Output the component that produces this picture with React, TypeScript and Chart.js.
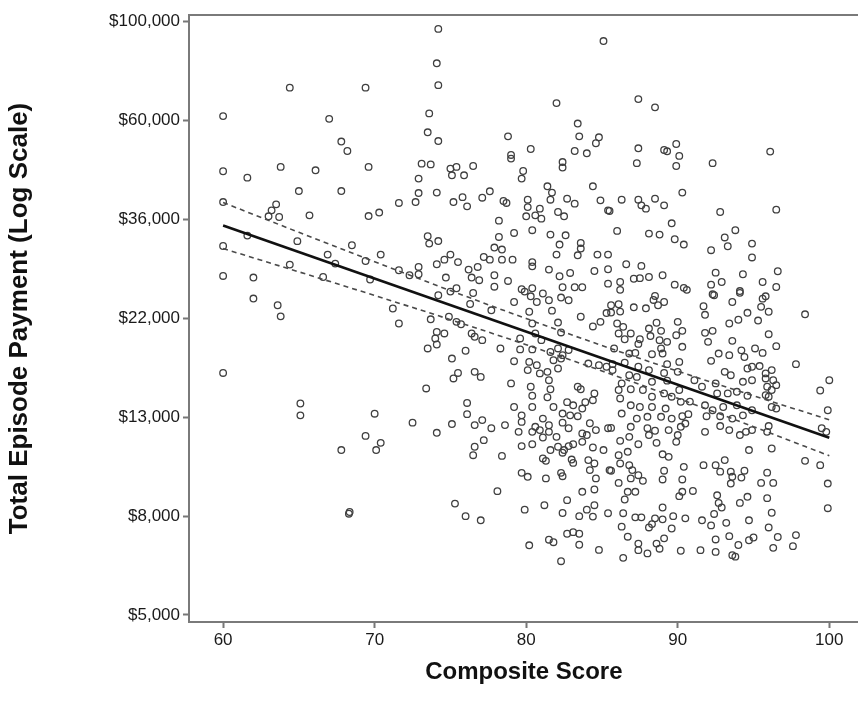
import { useEffect, useRef } from 'react';
import { Chart, registerables } from 'chart.js';

Chart.register(...registerables);

// Composite score of each hospital (x)
const scores = [
  64.4, 69.4, 60.0, 67.0, 67.8, 68.2, 74.2, 85.1, 74.1, 74.2, 82.0, 73.6, 83.4, 73.5, 74.2, 78.8, 83.5, 84.8, 84.6, 80.3,
  83.2, 84.0, 79.0, 87.4, 88.5, 87.4, 89.1, 89.9, 89.3, 96.1, 60.0, 61.6, 63.8, 66.1, 69.6, 65.0, 67.8, 60.0, 63.5, 63.2,
  63.0, 63.7, 65.7, 69.6, 70.3, 71.6, 61.6, 64.9, 68.5, 60.0, 66.9, 67.4, 69.4, 70.4, 64.4, 71.6, 60.0, 62.0, 66.6, 69.7,
  62.0, 63.6, 63.8, 71.2, 71.6, 60.0, 65.1, 65.1, 70.0, 69.4, 70.4, 70.1, 67.8, 68.3, 68.35,
  73.1, 73.7, 72.9, 75.0, 75.4, 75.1, 75.9, 76.5, 79.0, 79.8, 79.7, 82.4, 82.4, 84.4, 72.7, 72.9, 74.1, 75.2, 75.8, 76.1,
  77.1, 77.6, 78.5, 78.7, 80.1, 80.1, 80.0, 80.9, 80.6, 81.0, 81.4, 81.7, 81.6, 82.7, 83.2, 82.1, 82.5, 84.9, 85.4, 78.2,
  79.2, 80.4, 81.6, 82.6, 78.2, 73.5, 73.6, 74.2, 82.2, 83.6, 83.6, 82.0, 83.4, 84.7, 85.4, 77.9, 78.4, 77.2, 77.6, 78.4,
  79.1, 80.4, 80.4, 75.0, 74.6, 74.1, 75.5, 72.9, 72.3, 72.9, 76.2, 76.8, 76.4, 76.9, 74.7, 77.9, 77.9, 78.8, 81.5, 82.2,
  82.9, 84.5, 85.4, 79.7, 80.4, 81.1, 82.4, 83.2, 83.7, 75.4, 75.0, 85.4,
  90.1, 87.3, 89.9, 92.3, 90.3, 86.3, 87.4, 88.5, 87.6, 87.9, 89.1, 85.5, 92.8, 96.5, 89.6, 86.0, 88.1, 88.8, 89.8, 90.4,
  92.2, 93.1, 93.8, 93.3, 94.9, 94.9, 86.6, 87.6, 86.2, 87.1, 87.5, 88.1, 89.0, 89.8, 90.4, 92.5, 94.3, 96.6, 92.2, 92.9,
  95.6, 96.5, 94.1, 92.3, 88.5, 95.8,
  73.7, 74.9, 75.4, 75.7, 74.1, 74.6, 74.0, 74.1, 73.5, 76.4, 76.6, 77.1, 76.0, 75.1, 75.5, 75.2, 76.6, 77.0, 73.4, 76.5,
  76.3, 77.7, 74.2, 79.2, 79.9, 80.3, 80.7, 81.5, 82.3, 82.8, 80.2, 81.7, 82.1, 82.3, 83.6, 84.4, 84.9, 85.3, 80.4, 79.6,
  80.6, 81.0, 78.3, 79.6, 80.4, 81.6, 82.1, 82.4, 82.8, 81.8, 82.3, 82.1, 79.2, 80.2, 80.7, 80.1, 80.9, 81.4, 81.5, 79.0,
  80.3, 80.4, 81.6, 81.4, 83.4, 83.6, 84.5, 84.4, 84.1, 84.8, 85.3, 76.1, 76.1, 79.2, 80.4, 81.8, 82.7, 83.1, 83.9, 83.7,
  82.4, 82.9, 83.4, 79.7, 79.7, 81.1, 81.5, 80.6, 80.9, 82.4, 82.8, 84.2, 84.6, 83.7, 72.5, 75.1, 76.6, 77.1, 77.7, 78.6,
  79.5, 74.1, 85.4,
  86.2, 90.6, 92.4, 94.1, 85.6, 86.1, 85.6, 86.2, 87.1, 87.9, 88.4, 88.7, 89.1, 91.7, 91.8, 93.6, 95.6, 95.5, 96.0, 94.6,
  98.4, 94.0, 93.4, 95.3, 86.0, 86.4, 86.1, 86.5, 86.9, 87.5, 87.4, 88.1, 88.6, 88.9, 88.2, 88.8, 89.3, 89.9, 90.0, 90.3,
  91.8, 92.3, 92.0, 93.6, 96.0, 96.5, 85.8, 86.8, 87.2, 88.3, 88.9, 89.0, 90.3, 92.7, 93.4, 94.2, 94.4, 95.1, 95.6, 97.8,
  92.2, 90.1, 89.3, 88.1, 87.4, 86.5, 85.7, 85.7, 94.6, 94.9, 95.4, 96.2, 95.8, 93.1, 93.5, 94.9, 94.3, 95.8, 96.3, 96.5,
  95.9, 96.2, 95.8, 96.0, 91.1, 91.6, 92.5, 92.6, 93.3, 93.9, 94.6, 90.8, 90.1, 90.0, 89.1, 89.3, 88.3, 87.3, 86.8, 86.3,
  86.1, 86.2, 86.9, 87.7, 88.3, 89.1, 89.6, 90.2, 86.9, 87.5, 88.3, 89.2, 86.3, 91.8, 92.3, 93.0, 93.9, 94.9, 96.2, 96.5,
  94.3, 93.6, 92.8, 91.9, 90.7, 90.3, 89.6, 88.9, 88.0, 87.3, 85.6, 86.9, 88.0, 88.5, 89.4, 90.2, 90.5, 91.8, 92.8, 93.4,
  94.5, 94.9, 96.0, 95.9, 100.0, 99.4, 99.9, 99.5, 99.8,
  77.2, 76.6, 76.5, 78.4, 80.4, 81.1, 81.5, 82.0, 79.7, 80.4, 81.6, 82.1, 82.5, 82.8, 83.1, 83.7, 84.0, 84.4, 85.1, 81.1,
  81.3, 82.4, 83.0, 83.1, 84.1, 84.5, 84.2, 85.5, 79.7, 80.1, 81.3, 82.3, 82.4, 84.6, 78.1, 83.7, 84.5, 75.3, 76.0, 77.0,
  79.9, 81.2, 82.4, 82.7, 83.5, 84.0, 84.5, 84.4, 85.4, 82.7, 83.1, 83.5, 81.5, 81.8, 83.5, 80.2, 84.8, 82.3,
  86.2, 86.8, 87.4, 88.1, 88.6, 89.9, 90.0, 94.1, 94.7, 96.2, 86.1, 86.7, 89.0, 89.4, 85.6, 86.2, 86.8, 87.0, 86.9, 87.4,
  87.7, 86.1, 89.1, 89.0, 90.4, 91.7, 92.5, 93.1, 92.8, 93.5, 93.6, 93.5, 94.4, 94.2, 95.9, 95.5, 96.3, 90.3, 86.7, 87.2,
  86.5, 90.3, 91.0, 90.1, 92.6, 94.6, 94.1, 95.9, 92.7, 92.9, 86.4, 87.2, 87.6, 88.5, 89.0, 89.0, 89.7, 90.5, 92.4, 96.2,
  91.6, 92.2, 93.2, 94.7, 86.3, 88.1, 88.3, 89.6, 96.0, 86.7, 87.4, 89.1, 88.6, 88.8, 87.4, 88.0, 90.2, 91.5, 92.5, 92.5,
  93.4, 94.0, 94.7, 95.0, 96.6, 97.8, 96.3, 97.6, 93.6, 93.8, 86.4, 98.4, 99.4, 99.9, 99.9,
];

// Total episode payment of each hospital, dollars (y)
const payments = [
  70600, 70600, 61150, 60300, 53760, 51260, 95000, 89350, 79850, 71500, 65300, 61990, 58880, 56340, 53900, 55200, 55200, 54930, 53300, 51780,
  51260, 50670, 50240, 66630, 63900, 51960, 51520, 53100, 51180, 51100, 46270, 44800, 47300, 46500, 47300, 41870, 41870, 39600, 39150, 37980,
  36850, 36720, 37030, 36900, 37560, 39420, 33430, 32500, 31840, 31720, 30370, 29020, 29400, 30370, 28870, 28060, 27260, 27040, 27120, 26780,
  24320, 23510, 22230, 23130, 21440, 16700, 14310, 13480, 13590, 12150, 11730, 11310, 11310, 8200, 8270,
  48080, 47900, 44580, 46900, 47300, 45330, 45330, 47520, 49330, 46330, 44580, 48480, 47150, 42880, 39600, 41450, 41540, 39600, 40600, 38750,
  40480, 41810, 39810, 39420, 40080, 38610, 36850, 38300, 37030, 36420, 42880, 41540, 40080, 40280, 39280, 37660, 36850, 39950, 37980, 36050,
  33880, 34350, 33600, 33480, 33200, 33320, 32100, 32520, 31950, 32200, 31310, 30370, 30260, 30370, 30370, 31470, 31150, 30000, 29600, 29600,
  29600, 29240, 28620, 30370, 29600, 28920, 29240, 28530, 27360, 27500, 28150, 28530, 27040, 26680, 27040, 27360, 25820, 26580, 28150, 27220,
  27680, 27950, 28200, 25490, 25620, 24950, 25750, 25750, 25750, 25620, 25190, 26220,
  50000, 48200, 47520, 48200, 41540, 40080, 40080, 40280, 38950, 38300, 38950, 37850, 37660, 38110, 35570, 34230, 33770, 33600, 32820, 31950,
  31050, 33120, 34350, 31680, 32100, 29930, 28920, 28680, 26440, 26880, 26960, 27120, 27360, 26090, 25670, 27720, 27500, 27920, 26090, 26440,
  26440, 25780, 25260, 24850, 24640, 24600,
  21900, 22190, 21620, 21360, 20550, 20390, 19880, 19280, 18900, 20390, 20050, 19710, 18680, 17960, 16700, 16240, 16790, 16370, 15440, 25010,
  23660, 22920, 24730, 23900, 25190, 24600, 23900, 24110, 24440, 24110, 22750, 22880, 21540, 20490, 22190, 21120, 21620, 22600, 21440, 19880,
  20390, 19710, 18900, 18810, 18810, 18570, 18900, 18270, 18750, 17810, 17960, 17080, 17720, 17660, 17370, 16940, 16660, 16790, 16100, 15840,
  15580, 14880, 15380, 14770, 15580, 15380, 15060, 14550, 17510, 17370, 17230, 14350, 13560, 14060, 14060, 14060, 14410, 14180, 14410, 13950,
  13600, 13480, 13420, 13480, 13040, 13260, 12820, 12720, 12510, 12990, 12630, 12950, 12510, 12300, 12990, 12900, 12830, 13160, 12630, 12830,
  12400, 12340, 12630,
  25410, 25410, 24730, 25030, 23510, 23630, 22660, 22770, 23270, 23150, 24150, 23510, 23900, 23390, 22400, 23900, 24310, 23320, 22750, 22630,
  22460, 21850, 21440, 21760, 21440, 21080, 20390, 19800, 20390, 19800, 19340, 20900, 21520, 20660, 20120, 19710, 19540, 20210, 21620, 20660,
  20450, 20660, 19540, 19640, 20310, 19120, 18900, 18420, 18480, 18360, 18900, 18420, 19060, 18420, 18270, 18720, 18100, 18900, 18480, 17460,
  17750, 17660, 17460, 16940, 17230, 17580, 16940, 17460, 17080, 17230, 17290, 16940, 16660, 16790, 16510, 16100, 15970, 16240, 16100, 15700,
  15580, 15320, 14930, 14810, 16100, 15580, 15840, 15060, 15060, 15180, 14880, 14450, 15320, 16790, 16700, 16060, 15970, 16370, 16510, 15840,
  15320, 14680, 15380, 15320, 14810, 15060, 14810, 14430, 14180, 14060, 14060, 13950, 13600, 14180, 13830, 14060, 14180, 13830, 14060, 13950,
  13480, 13260, 13420, 13420, 13560, 13420, 13260, 13380, 13380, 13260, 12650, 12720, 12630, 12470, 12510, 12720, 12930, 12400, 12770, 12510,
  12400, 12510, 12770, 12400, 16100, 15280, 13830, 12630, 12400,
  11890, 11500, 11020, 10980, 12400, 12050, 12400, 12090, 11540, 11650, 11310, 11500, 11310, 11540, 11650, 11790, 12200, 11460, 11310, 10840,
  10710, 11160, 10780, 10600, 10750, 10570, 10220, 10220, 10080, 9880, 9800, 10080, 9910, 9800, 9190, 9160, 9270, 8630, 8100, 7930,
  8370, 8560, 8230, 8780, 8100, 8370, 8560, 8080, 8220, 7410, 7470, 7410, 7190, 7100, 7010, 6990, 6830, 6450,
  11850, 12090, 11650, 12200, 11730, 11790, 12200, 12200, 11310, 11400, 11020, 11210, 11070, 10930, 10190, 10570, 10480, 10220, 9800, 9960,
  9680, 9580, 10190, 9750, 10390, 10480, 10480, 10750, 10140, 10140, 9880, 9550, 10190, 9840, 10090, 9580, 9580, 9750, 9160, 9160,
  8810, 9160, 9200, 8960, 9000, 8930, 8660, 8870, 8660, 8460, 8220, 8050, 8050, 8010, 7970, 8460, 8100, 8010, 8190, 8240,
  7930, 7730, 7830, 7930, 7680, 7650, 7780, 7610, 7650, 7300, 7050, 7240, 7050, 6870, 6820, 6710, 6800, 6820, 6760, 7200,
  7320, 7000, 7170, 7270, 7290, 7360, 6900, 6960, 6650, 6600, 6560, 10710, 10480, 9550, 8430,
];

// Fitted regression line and its confidence band
const fitScores = [60, 100];
const fitPayments = [35170, 12035];
const bandScores = [60, 65, 70, 75, 80, 85, 90, 95, 100];
const upperBand = [39510, 33990, 29300, 25320, 21980, 19180, 16850, 14880, 13180];
const lowerBand = [31310, 27830, 24700, 21860, 19260, 16870, 14690, 12730, 10990];

// Axes
const xTicks = [60, 70, 80, 90, 100];
const yTickValues = [4915, 8103, 13360, 22026, 36316, 59874, 98715];
const yTickLabels = ['$5,000', '$8,000', '$13,000', '$22,000', '$36,000', '$60,000', '$100,000'];
const xTitle = 'Composite Score';
const yTitle = 'Total Episode Payment (Log Scale)';

const FONT = "'Liberation Sans', Arial, Helvetica, sans-serif";

const framePlugin = {
  id: 'topFrame',
  afterDraw(chart: any) {
    const { ctx, chartArea } = chart;
    ctx.save();
    ctx.strokeStyle = '#7a7a7a';
    ctx.lineWidth = 2;
    ctx.beginPath();
    ctx.moveTo(chartArea.left - 1, chartArea.top);
    ctx.lineTo(chartArea.right, chartArea.top);
    ctx.stroke();
    ctx.restore();
  },
};

export default function App() {
  const ref = useRef<HTMLCanvasElement | null>(null);

  useEffect(() => {
    if (!ref.current) return;
    const points = scores.map((s, i) => ({ x: s, y: payments[i] }));
    const fit = fitScores.map((s, i) => ({ x: s, y: fitPayments[i] }));
    const upper = bandScores.map((s, i) => ({ x: s, y: upperBand[i] }));
    const lower = bandScores.map((s, i) => ({ x: s, y: lowerBand[i] }));

    const chart = new Chart(ref.current, {
      type: 'scatter',
      data: {
        datasets: [
          {
            data: fit,
            showLine: true,
            borderColor: '#111',
            borderWidth: 2.6,
            pointRadius: 0,
            order: 0,
          },
          {
            data: upper,
            showLine: true,
            borderColor: '#4a4a4a',
            borderWidth: 1.6,
            borderDash: [5, 4],
            pointRadius: 0,
            cubicInterpolationMode: 'monotone',
            order: 1,
          },
          {
            data: lower,
            showLine: true,
            borderColor: '#4a4a4a',
            borderWidth: 1.6,
            borderDash: [5, 4],
            pointRadius: 0,
            cubicInterpolationMode: 'monotone',
            order: 1,
          },
          {
            data: points,
            pointRadius: 3.3,
            pointBorderWidth: 1.3,
            pointBorderColor: '#404040',
            pointBackgroundColor: 'rgba(255,255,255,0)',
            order: 2,
          },
        ] as any,
      },
      options: {
        responsive: false,
        animation: false,
        events: [],
        layout: { padding: { top: 15, right: 0, bottom: 0, left: 0 } },
        plugins: { legend: { display: false }, tooltip: { enabled: false } },
        scales: {
          x: {
            type: 'linear',
            min: 57.75,
            max: 101.94,
            afterBuildTicks: (scale: any) => {
              scale.ticks = xTicks.map((v) => ({ value: v }));
            },
            afterFit: (scale: any) => {
              scale.height = 92;
            },
            grid: {
              display: true,
              drawOnChartArea: false,
              drawTicks: true,
              tickLength: 6,
              tickColor: '#777',
              tickWidth: 2,
            },
            border: { display: true, color: '#7a7a7a', width: 2 },
            ticks: {
              color: '#1a1a1a',
              padding: 2,
              maxRotation: 0,
              font: { family: FONT, size: 17 },
              callback: (v: any) => String(v),
            },
            title: {
              display: true,
              text: xTitle,
              color: '#111',
              font: { family: FONT, size: 24, weight: 'bold' },
              padding: { top: 0, bottom: 27 },
            },
          },
          y: {
            type: 'logarithmic',
            min: 4744,
            max: 101910,
            afterBuildTicks: (scale: any) => {
              scale.ticks = yTickValues.map((v) => ({ value: v }));
            },
            afterFit: (scale: any) => {
              scale.width = 189;
            },
            grid: {
              display: true,
              drawOnChartArea: false,
              drawTicks: true,
              tickLength: 6,
              tickColor: '#777',
              tickWidth: 2,
            },
            border: { display: true, color: '#7a7a7a', width: 2 },
            ticks: {
              color: '#1a1a1a',
              padding: 3,
              font: { family: FONT, size: 17 },
              callback: (_v: any, i: number) => yTickLabels[i],
            },
            title: {
              display: true,
              text: yTitle,
              color: '#111',
              font: { family: FONT, size: 26, weight: 'bold' },
              padding: { top: 4, bottom: 0 },
            },
          },
        },
      } as any,
      plugins: [framePlugin],
    });
    return () => chart.destroy();
  }, []);

  return (
    <div
      style={{
        position: 'absolute',
        left: 0,
        top: 0,
        width: 858,
        height: 714,
        overflow: 'hidden',
        background: '#fff',
      }}
    >
      <canvas ref={ref} width={864} height={714} style={{ display: 'block' }} />
    </div>
  );
}
